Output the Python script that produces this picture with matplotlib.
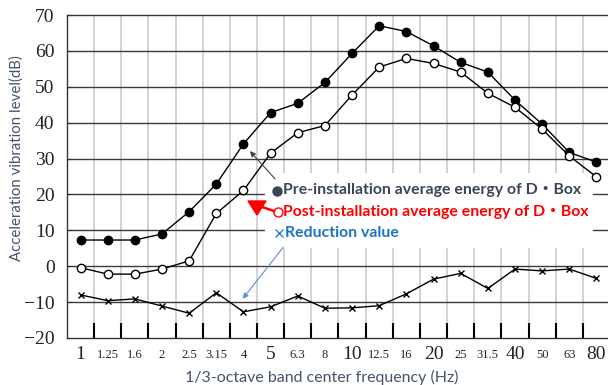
import matplotlib
matplotlib.use("Agg")
import matplotlib.pyplot as plt
from matplotlib.patches import Rectangle, Polygon

freqs = ["1", "1.25", "1.6", "2", "2.5", "3.15", "4", "5", "6.3", "8", "10",
         "12.5", "16", "20", "25", "31.5", "40", "50", "63", "80"]
big_labels = ["1", "5", "10", "20", "40", "80"]
pre = [7.3, 7.3, 7.3, 9.0, 15.2, 22.9, 34.1, 42.8, 45.4, 51.2, 59.3,
       67.0, 65.4, 61.4, 56.8, 54.1, 46.3, 39.6, 31.7, 29.0]
post = [-0.4, -2.2, -2.2, -0.8, 1.5, 14.7, 21.1, 31.5, 37.2, 39.2, 47.7,
        55.5, 57.9, 56.5, 54.1, 48.2, 44.3, 38.2, 30.7, 24.9]
reduction = [-8.0, -9.6, -9.1, -11.1, -13.1, -7.4, -12.7, -11.3, -8.3, -11.7, -11.6,
             -11.0, -7.7, -3.6, -2.0, -6.2, -0.8, -1.3, -0.8, -3.4]
yticks = [70, 60, 50, 40, 30, 20, 10, 0, -10, -20]

pre_label = "Pre-installation average energy of D・Box"
post_label = "Post-installation average energy of D・Box"
red_label = "Reduction value"
xlabel = "1/3-octave band center frequency (Hz)"
ylabel = "Acceleration vibration level(dB)"

W, H = 608, 385
fig = plt.figure(figsize=(W / 100, H / 100), dpi=100)
L, R, T, B = 67, 610, 15, 338
ax = fig.add_axes([L / W, (H - B) / H, (R - L) / W, (B - T) / H])

n = len(freqs)
xs = [i + 0.5 for i in range(n)]
ax.set_xlim(0, n)
ax.set_ylim(-20, 70)

# grid
for k in range(1, n):
    ax.axvline(k, color="#cfcfcf", lw=1.3, zorder=1)
for v in yticks[1:-1]:
    ax.axhline(v, color="#3a3a3a", lw=1.0, zorder=1.2)

for s in ["top", "bottom", "left"]:
    ax.spines[s].set_color("#333333")
    ax.spines[s].set_linewidth(1.0)
ax.spines["right"].set_visible(False)

# legend white box
ax.add_patch(Rectangle(((265 - L) / (R - L), (B - 248) / (B - T)),
                       (593 - 265) / (R - L), (248 - 173) / (B - T),
                       transform=ax.transAxes, facecolor="white", edgecolor="none", zorder=1.5))

# data
ax.plot(xs, pre, color="black", lw=1.0, marker="o", ms=6, mfc="black", mec="black", zorder=3)
ax.plot(xs, post, color="black", lw=1.0, marker="o", ms=6, mfc="white", mec="black", mew=1.0, zorder=3)
ax.plot(xs, reduction, color="black", lw=1.0, marker="x", ms=5, mew=1.0, zorder=3)

# ticks
ax.set_xticks(range(1, n))
ax.set_xticklabels([])
ax.tick_params(axis="x", which="major", direction="in", length=11, width=1.5, color="black")
ax.set_xticks(xs, minor=True)
ax.set_xticklabels(freqs, minor=True, family="Liberation Serif")
ax.tick_params(axis="x", which="minor", length=0, pad=12)
for lab, f in zip(ax.get_xticklabels(minor=True), freqs):
    lab.set_fontsize(14 if f in big_labels else 9)
    lab.set_verticalalignment("center")
    lab.set_color("#222222")
ax.set_yticks(yticks)
ax.set_yticklabels([str(v).replace("-", "\u2212") for v in yticks], family="Liberation Serif",
                   fontsize=14, color="#222222")
ax.tick_params(axis="y", direction="in", length=3, pad=9, color="#333333")

def px(x, y):
    return ((x - L) / (R - L), (B - y) / (B - T))

# legend items
ax.plot(*px(277, 190.5), marker="o", ms=6.5, color="#3a4556", transform=ax.transAxes, zorder=5, clip_on=False)
ax.plot(*px(278, 212), marker="o", ms=6.5, mfc="white", mec="red", mew=1.0, transform=ax.transAxes, zorder=5, clip_on=False)
ax.plot(*px(279, 233), marker="x", ms=5.5, mew=1.0, color="#2f7fd0", transform=ax.transAxes, zorder=5, clip_on=False)
ax.plot([px(262, 207)[0], px(274, 211)[0]], [px(262, 207)[1], px(274, 211)[1]],
        color="red", lw=1.8, transform=ax.transAxes, zorder=5, clip_on=False)
ax.add_patch(Polygon([px(248, 201), px(266, 201), px(257, 215)], closed=True,
                     facecolor="red", edgecolor="red", transform=ax.transAxes, zorder=5))

tf = ["Lato", "Noto Sans CJK JP"]
ax.text(*px(283, 190), pre_label, transform=ax.transAxes, family=tf, fontsize=11.4, fontweight="bold",
        color="#3a4556", va="center", ha="left", zorder=6)
ax.text(*px(283, 212), post_label, transform=ax.transAxes, family=tf, fontsize=11.4, fontweight="bold",
        color="#ff0000", va="center", ha="left", zorder=6)
ax.text(*px(285, 233), red_label, transform=ax.transAxes, family=tf, fontsize=11.4, fontweight="bold",
        color="#1a74c8", va="center", ha="left", zorder=6)

# arrows
ax.annotate("", xy=px(248, 149), xytext=px(277, 181), xycoords="axes fraction", textcoords="axes fraction",
            arrowprops=dict(arrowstyle="-|>", color="#444444", lw=0.8, mutation_scale=8), zorder=6)
ax.annotate("", xy=px(241, 301), xytext=px(285, 245), xycoords="axes fraction", textcoords="axes fraction",
            arrowprops=dict(arrowstyle="-|>", color="#5b8fd6", lw=0.8, mutation_scale=8), zorder=6)

fig.text(322 / W, (H - 377) / H, xlabel, family="Lato", fontsize=11.5, color="#44546a", ha="center", va="center")
fig.text(17 / W, (H - 158) / H, ylabel, family="Lato", fontsize=10.8, color="#44546a", ha="center", va="center",
         rotation=90)

fig.savefig("out.png", dpi=100)
